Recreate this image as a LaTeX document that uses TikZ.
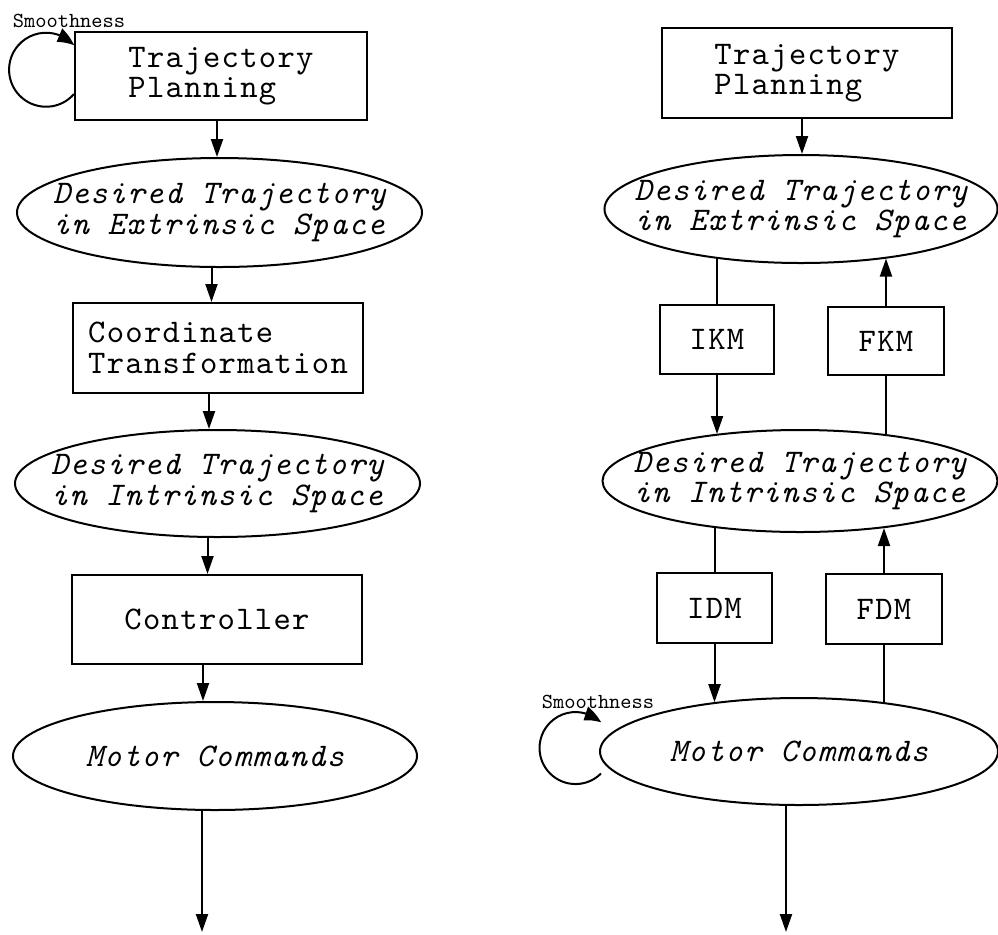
\documentclass[tikz,border=0pt]{standalone}
\usepackage{fontspec}
\newfontfamily\typefont{lmmono10-regular.otf}[ItalicFont=lmmono10-italic.otf, LetterSpace=4]
\usetikzlibrary{shapes.geometric,arrows.meta,bending}
\tikzset{ b/.style = { rectangle % block
        , draw
        , line width = 1pt
        , inner sep = 0pt
        , align = left
        , font = \typefont\fontsize{16.5}{15.3}\selectfont
        }
        , e/.style = { ellipse % signal
        , draw
        , line width = 1pt
        , inner xsep = -40pt
        , inner ysep = -12pt
        , align = left
        , font = \typefont\itshape\fontsize{16.5}{15.3}\selectfont
        }
        , s/.style = { rectangle % smoothness tag
        , inner sep = 0pt
        , font = \ttfamily\fontsize{10.7}{11}\selectfont
        }
        }

\begin{document}
\begin{tikzpicture}[x=0.5pt, y=0.5pt,
        edge_style/.style={draw=black, line width=1pt, -{Triangle[length=9pt,width=6pt]}},
        line_style/.style={draw=black, line width=1pt},
        loop_style/.style={draw=black, line width=1pt, -{Triangle[length=9pt,width=7pt,bend]}}]
        \useasboundingbox (0,0) rectangle (998,-934);

        % left: planning in extrinsic space
        \node [b,minimum width=146pt,minimum height=44pt](tp1) at (221,-76) {Trajectory\\Planning};
        \node [e,minimum width=202.5pt,minimum height=54.5pt](de1) at (219.5,-212.5) {Desired Trajectory\\in Extrinsic Space};
        \node [b,minimum width=145pt,minimum height=45pt](ct) at (218,-348) {Coordinate\\Transformation};
        \node [e,minimum width=202.5pt,minimum height=53.5pt](di1) at (217.5,-483.5) {Desired Trajectory\\in Intrinsic Space};
        \node [b,minimum width=145pt,minimum height=44.5pt](ctrl) at (217,-619.5) {Controller};
        \node [e,minimum width=202pt,minimum height=54pt](mc1) at (215,-756) {Motor Commands};
        \node [s](sm1) at (69,-21) {Smoothness};
        \coordinate (out1) at (202,-932);

        % right: planning in motor space
        \node [b,minimum width=145pt,minimum height=45pt](tp2) at (807,-73) {Trajectory\\Planning};
        \node [e,minimum width=196.5pt,minimum height=54pt](de2) at (801,-209) {Desired Trajectory\\in Extrinsic Space};
        \node [b,minimum width=57pt,minimum height=34.5pt](ikm) at (717,-339.5) {IKM};
        \node [b,minimum width=58pt,minimum height=34pt](fkm) at (886,-341) {FKM};
        \node [e,minimum width=197.5pt,minimum height=51pt](di2) at (800,-481) {Desired Trajectory\\in Intrinsic Space};
        \node [b,minimum width=57.5pt,minimum height=35pt](idm) at (714.5,-608) {IDM};
        \node [b,minimum width=58pt,minimum height=35pt](fdm) at (884,-609) {FDM};
        \node [e,minimum width=199pt,minimum height=53.5pt](mc2) at (799,-751.5) {Motor Commands};
        \node [s](sm2) at (598,-702) {Smoothness};
        \coordinate (out2) at (786,-932);

        \draw [edge_style] ([xshift=-2pt]tp1.south) -- ([xshift=-2pt]tp1.south |- de1.north);
        \draw [edge_style] ([xshift=-4pt]de1.south) -- ([xshift=-4pt]de1.south |- ct.north);
        \draw [edge_style] ([xshift=-4.5pt]ct.south) -- ([xshift=-4.5pt]ct.south |- di1.north);
        \draw [edge_style] ([xshift=-5pt]di1.south) -- ([xshift=-5pt]di1.south |- ctrl.north);
        \draw [edge_style] ([xshift=-7pt]ctrl.south) -- ([xshift=-7pt]ctrl.south |- mc1.north);
        \draw [edge_style] (out1 |- mc1.south) -- (out1);
        \draw [loop_style] ([yshift=-9pt]tp1.west) arc[start angle=-41, end angle=-319, radius=18.5pt];

        \draw [edge_style] ([xshift=-2.5pt]tp2.south) -- ([xshift=-2.5pt]tp2.south |- de2.north);
        \draw [line_style] (ikm.north |- de2.210) -- (ikm.north);
        \draw [edge_style] (ikm.south) -- (ikm.south |- di2.151);
        \draw [edge_style] (fkm.north) -- (fkm.north |- de2.330);
        \draw [line_style] (fkm.south |- di2.29) -- (fkm.south);
        \draw [line_style] (idm.north |- di2.209) -- (idm.north);
        \draw [edge_style] (idm.south) -- (idm.south |- mc2.150);
        \draw [edge_style] (fdm.north) -- (fdm.north |- di2.331);
        \draw [line_style] (fdm.south |- mc2.30) -- (fdm.south);
        \draw [edge_style] (out2 |- mc2.south) -- (out2);
        \draw [loop_style] ([xshift=1pt,yshift=-11pt]mc2.west) arc[start angle=-45, end angle=-315, radius=18pt];
\end{tikzpicture}
\end{document}
